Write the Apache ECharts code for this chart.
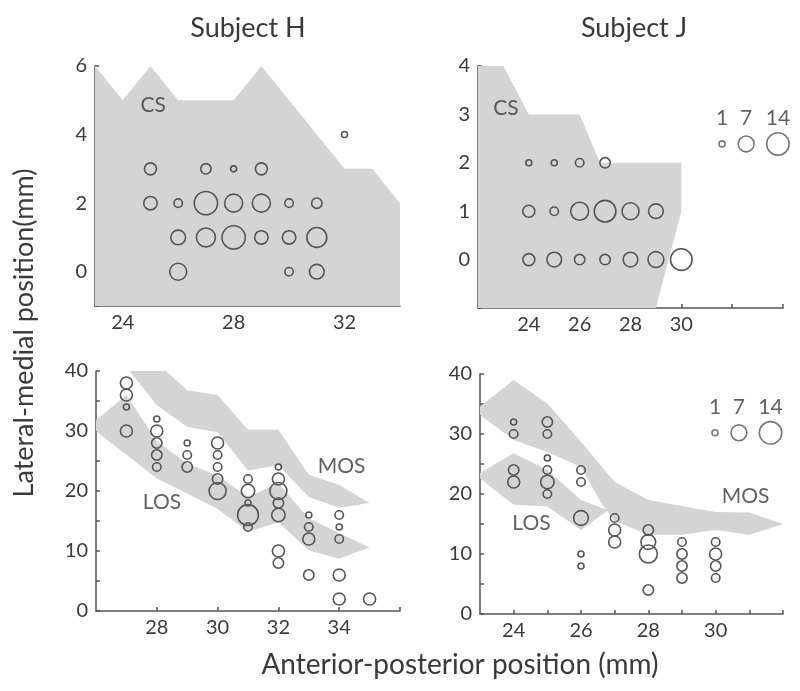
<!DOCTYPE html>
<html><head><meta charset="utf-8">
<script src="https://cdn.jsdelivr.net/npm/echarts@6/dist/echarts.min.js"></script>
<style>html,body{margin:0;padding:0;background:#fff}#c{width:800px;height:691px}</style>
</head><body><div id="c"></div>
<script>
// ---------- DATA ----------
// bubbles: [anterior-posterior (mm), lateral-medial (mm), count]
const hCsBubbles = [[25,3,4],[27,3,3],[28,3,1],[29,3,4],[32,4,1],
  [25,2,5],[26,2,2],[27,2,15],[28,2,9],[29,2,9],[30,2,2],[31,2,3],
  [26,1,6],[27,1,10],[28,1,15],[29,1,5],[30,1,5],[31,1,11],
  [26,0,8],[30,0,2],[31,0,6]];
const jCsBubbles = [[24,2,1],[25,2,1],[26,2,2],[27,2,3],
  [24,1,4],[25,1,2],[26,1,9],[27,1,13],[28,1,8],[29,1,6],
  [24,0,4],[25,0,6],[26,0,3],[27,0,3],[28,0,6],[29,0,7],[30,0,13]];
const hOsBubbles = [[27,38,4],[27,36,4],[27,34,1],[27,30,4],
  [28,32,1],[28,30,4],[28,28,3],[28,26,3],[28,24,2],
  [29,28,1],[29,26,2],[29,24,3],
  [30,28,4],[30,26,2],[30,24,2],[30,22,3],[30,20,8],
  [31,22,2],[31,20,5],[31,18,1],[31,16,12],[31,14,2],
  [32,24,1],[32,22,4],[32,20,8],[32,18,3],[32,16,5],[32,10,4],[32,8,3],
  [33,16,1],[33,14,2],[33,12,4],[33,6,3],
  [34,16,2],[34,14,1],[34,12,2],[34,6,4],[34,2,4],
  [35,2,4]];
const jOsBubbles = [[24,32,1],[24,30,2],[24,24,3],[24,22,4],
  [25,32,3],[25,30,2],[25,26,1],[25,24,2],[25,22,5],[25,20,2],
  [26,24,2],[26,22,2],[26,16,6],[26,10,1],[26,8,1],
  [27,16,2],[27,14,4],[27,12,4],
  [28,14,3],[28,12,6],[28,10,9],[28,4,3],
  [29,12,2],[29,10,3],[29,8,3],[29,6,3],
  [30,12,2],[30,10,4],[30,8,3],[30,6,2]];
// shaded regions (outline vertices)
const hCsRegion = [[23,6],[24,5],[25,6],[26,5],[28,5],[29,6],[32,3],[33,3],[34,2],[34,-1],[23,-1]];
const jCsRegion = [[22,4],[23,4],[24,3],[26,3],[26.8,2],[30,2],[30,1],[29,-1],[22,-1]];
const hMosRegion = [[27.1,40],[28.3,40],[29,36.8],[30,36],[31,30.2],[32,30.2],[33,22.7],[34,21],[35,18],
  [34,17.2],[33,19],[32,24.3],[31,23.4],[30,29.8],[29,30.7],[28,34.3]];
const hLosRegion = [[26,31.8],[27,36],[28,28.3],[29,24.6],[30,22.6],[31,19],[32,21.3],[33,15.4],[34,13],[35,10.6],
  [34,8.7],[33,10.1],[32,14.8],[31,13.2],[30,17],[29,19.6],[28,22.1],[26,30]];
const jMosRegion = [[23,34.6],[24,39],[25,35.1],[26,28.7],[27,22],[28,19],[29,18],[30,17],[31,16.9],[32,15],
  [31,13.2],[30,14],[29,13.2],[28,13.2],[27,15.5],[26.6,18.5],[26,24.5],[25,27],[24,29],[23,33.2]];
const jLosRegion = [[23,23.5],[24,26.8],[25,24],[26,19],[26.8,17.3],[26,14],[25,17.9],[24,18.2],[23,22.6]];
// size legend counts
const legendCounts = [1,7,14];
// axis tick labels
const xTicksH1 = [24,28,32], yLabels1 = [0,2,4,6];
const xTicksJ1 = [24,26,28,30,32,34], xLabelsJ1 = [24,26,28,30], yLabels2 = [0,1,2,3,4];
const xTicksH2 = [28,30,32,34,36], xLabelsH2 = [28,30,32,34];
const xTicksJ2 = [24,25,26,27,28,29,30,31,32], xLabelsJ2 = [24,26,28,30];
const yLabels34 = [0,10,20,30,40];

// ---------- STYLE / LAYOUT ----------
const FONT = 'Lato, "Open Sans", sans-serif';
const TXT = '#3a3a3a', AX = '#555', SHADE = '#d4d4d4', RING = '#555';
const TICK_FS = 20;
function range(a,b,s){const r=[];for(let v=a;v<=b+1e-9;v+=s)r.push(+v.toFixed(3));return r;}

function xAxis(gi,min,max,ticks,labels){
  return {type:'value',gridIndex:gi,min,max,
    axisLine:{show:true,onZero:false,lineStyle:{color:AX,width:1.5}},
    axisTick:{show:true,inside:true,length:4,customValues:ticks,lineStyle:{color:AX,width:1.5}},
    axisLabel:{customValues:labels,color:TXT,fontFamily:FONT,fontSize:TICK_FS,margin:7},
    splitLine:{show:false}};
}
function yAxis(gi,min,max,ticks,labels){
  return {type:'value',gridIndex:gi,min,max,
    axisLine:{show:true,onZero:false,lineStyle:{color:AX,width:1.5}},
    axisTick:{show:true,inside:true,length:4,customValues:ticks,lineStyle:{color:AX,width:1.5}},
    axisLabel:{customValues:labels,color:TXT,fontFamily:FONT,fontSize:TICK_FS,margin:8},
    splitLine:{show:false}};
}
function region(i,pts){
  return {type:'custom',xAxisIndex:i,yAxisIndex:i,z:1,silent:true,data:[0],
    renderItem:(params,api)=>({type:'polygon',shape:{points:pts.map(p=>api.coord(p))},
      style:{fill:SHADE,stroke:null}})};
}
const sz = v => 6*Math.sqrt(v[2]);
function bubbles(i,data){
  return {type:'scatter',xAxisIndex:i,yAxisIndex:i,z:3,data,symbol:'circle',symbolSize:sz,
    itemStyle:{color:'rgba(0,0,0,0)',borderColor:RING,borderWidth:1.6,opacity:1},silent:true};
}
function textMarks(i,items){
  return {type:'scatter',xAxisIndex:i,yAxisIndex:i,z:4,symbolSize:0,silent:true,
    data:items.map(t=>({value:t.pos,label:{show:true,position:'inside',formatter:t.name,
      color:TXT,fontFamily:FONT,fontSize:21}}))};
}
function sizeLegend(i,xs,y){
  return {type:'scatter',xAxisIndex:i,yAxisIndex:i,z:4,symbol:'circle',silent:true,
    data:legendCounts.map((c,k)=>[xs[k],y,c]),symbolSize:sz,
    itemStyle:{color:'rgba(0,0,0,0)',borderColor:RING,borderWidth:1.6},
    label:{show:true,position:'inside',offset:[0,-26],formatter:p=>String(p.value[2]),
      color:TXT,fontFamily:FONT,fontSize:21}};
}

const option = {
  animation:false,
  grid:[
    {left:95,top:66,width:305,height:240},
    {left:478,top:66,width:305,height:242},
    {left:96,top:371,width:304,height:240},
    {left:480,top:374,width:303,height:240}
  ],
  xAxis:[
    xAxis(0,23,34,xTicksH1,xTicksH1),
    xAxis(1,22,34,xTicksJ1,xLabelsJ1),
    xAxis(2,26,36,xTicksH2,xLabelsH2),
    xAxis(3,23,32,xTicksJ2,xLabelsJ2)
  ],
  yAxis:[
    yAxis(0,-1,6,range(-1,6,1),yLabels1),
    yAxis(1,-1,4,range(-1,4,0.5),yLabels2),
    yAxis(2,0,40,range(0,40,5),yLabels34),
    yAxis(3,0,40,range(0,40,5),yLabels34)
  ],
  series:[
    region(0,hCsRegion), bubbles(0,hCsBubbles),
    textMarks(0,[{name:'CS',pos:[25.1,4.85]}]),
    region(1,jCsRegion), bubbles(1,jCsBubbles),
    textMarks(1,[{name:'CS',pos:[23.1,3.13]}]),
    sizeLegend(1,[31.6,32.55,33.8],2.39),
    region(2,hMosRegion), region(2,hLosRegion), bubbles(2,hOsBubbles),
    textMarks(2,[{name:'LOS',pos:[28.17,18.2]},{name:'MOS',pos:[34.08,24.05]}]),
    region(3,jMosRegion), region(3,jLosRegion), bubbles(3,jOsBubbles),
    textMarks(3,[{name:'LOS',pos:[24.53,15.1]},{name:'MOS',pos:[30.89,19.55]}]),
    sizeLegend(3,[29.98,30.69,31.63],30.2)
  ],
  graphic:[
    {type:'text',x:248,y:28,style:{text:'Subject H',fontFamily:FONT,fontSize:27,fill:TXT,align:'center',verticalAlign:'middle'}},
    {type:'text',x:634,y:28,style:{text:'Subject J',fontFamily:FONT,fontSize:27,fill:TXT,align:'center',verticalAlign:'middle'}},
    {type:'text',x:460,y:665,style:{text:'Anterior-posterior position (mm)',fontFamily:FONT,fontSize:28,fill:TXT,align:'center',verticalAlign:'middle'}},
    {type:'text',x:24,y:333,rotation:Math.PI/2,style:{text:'Lateral-medial position(mm)',fontFamily:FONT,fontSize:27,fill:TXT,align:'center',verticalAlign:'middle'}}
  ]
};
const chart = echarts.init(document.getElementById('c'),null,{renderer:'canvas'});
chart.setOption(option);
</script>
</body></html>
